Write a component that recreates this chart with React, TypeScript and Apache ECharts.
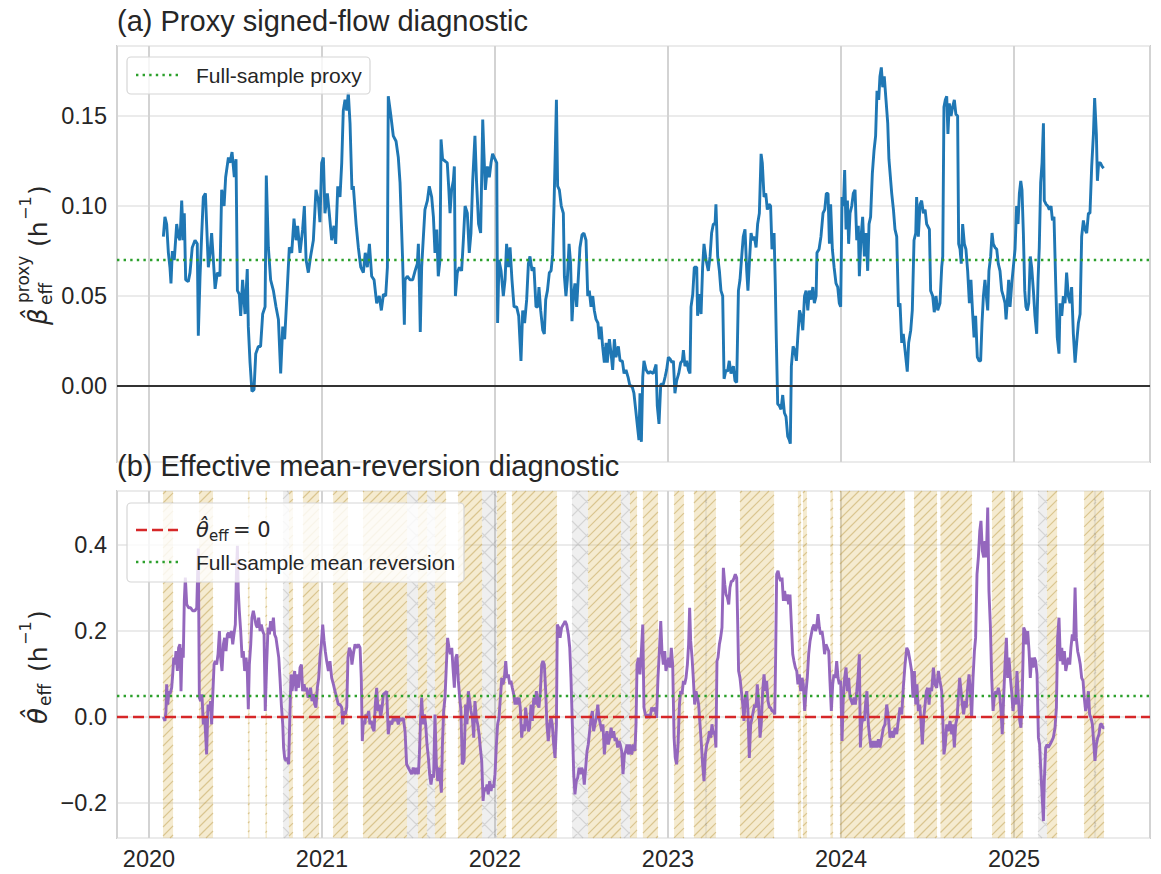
import React, { useEffect, useRef } from "react";
import * as echarts from "echarts";

// ---------------- data (x = years after BASE_YEAR) ----------------
const BASE_YEAR = 2020;
const X_MIN = 2019.815;
const X_MAX = 2025.786;
const BETA_FULL_SAMPLE = 0.0722;
const THETA_FULL_SAMPLE = 0.0473;

const betaProxy: [number, number][] = [
  [0.083,0.083],[0.092,0.094],[0.102,0.090],[0.112,0.074],[0.121,0.066],[0.127,0.057],[0.135,0.075],[0.146,0.070],[0.160,0.090],[0.170,0.083],[0.179,0.081],[0.189,0.103],[0.198,0.081],[0.204,0.096],[0.212,0.059],[0.227,0.058],[0.237,0.063],[0.250,0.077],[0.266,0.081],[0.279,0.079],[0.285,0.028],[0.295,0.061],[0.304,0.083],[0.314,0.105],[0.326,0.107],[0.333,0.090],[0.343,0.066],[0.353,0.074],[0.362,0.085],[0.372,0.070],[0.382,0.054],[0.395,0.063],[0.410,0.061],[0.420,0.109],[0.434,0.100],[0.443,0.116],[0.459,0.127],[0.468,0.124],[0.480,0.130],[0.493,0.116],[0.503,0.126],[0.511,0.053],[0.522,0.051],[0.530,0.039],[0.541,0.059],[0.555,0.040],[0.568,0.065],[0.574,0.033],[0.584,0.013],[0.595,-0.003],[0.607,-0.002],[0.617,0.018],[0.632,0.022],[0.645,0.022],[0.657,0.040],[0.671,0.044],[0.678,0.117],[0.690,0.077],[0.703,0.059],[0.719,0.053],[0.734,0.044],[0.748,0.037],[0.761,0.007],[0.773,0.033],[0.784,0.026],[0.796,0.048],[0.811,0.077],[0.825,0.074],[0.838,0.093],[0.850,0.081],[0.859,0.089],[0.873,0.074],[0.888,0.087],[0.898,0.100],[0.908,0.070],[0.921,0.063],[0.934,0.072],[0.950,0.081],[0.965,0.109],[0.979,0.103],[0.988,0.091],[0.998,0.124],[1.008,0.127],[1.017,0.096],[1.031,0.107],[1.042,0.096],[1.056,0.081],[1.069,0.089],[1.079,0.079],[1.091,0.111],[1.104,0.105],[1.114,0.124],[1.123,0.153],[1.133,0.159],[1.143,0.153],[1.152,0.163],[1.162,0.146],[1.173,0.109],[1.181,0.111],[1.197,0.090],[1.210,0.077],[1.224,0.066],[1.239,0.063],[1.250,0.074],[1.262,0.066],[1.274,0.079],[1.287,0.061],[1.301,0.059],[1.316,0.046],[1.331,0.050],[1.343,0.042],[1.355,0.051],[1.368,0.050],[1.378,0.066],[1.383,0.161],[1.397,0.151],[1.412,0.139],[1.428,0.136],[1.441,0.127],[1.451,0.113],[1.466,0.070],[1.476,0.034],
  [1.480,0.059],[1.493,0.061],[1.509,0.059],[1.524,0.059],[1.538,0.064],[1.551,0.068],[1.557,0.079],[1.563,0.055],[1.568,0.030],[1.576,0.066],[1.586,0.083],[1.595,0.098],[1.609,0.103],[1.620,0.111],[1.634,0.105],[1.644,0.094],[1.653,0.074],[1.663,0.087],[1.672,0.061],[1.682,0.070],[1.688,0.137],[1.697,0.126],[1.711,0.125],[1.724,0.124],[1.732,0.111],[1.740,0.096],[1.749,0.109],[1.759,0.114],[1.765,0.122],[1.771,0.050],[1.782,0.063],[1.794,0.066],[1.807,0.064],[1.817,0.081],[1.827,0.100],[1.840,0.096],[1.851,0.074],[1.861,0.085],[1.871,0.114],[1.884,0.139],[1.893,0.114],[1.905,0.090],[1.917,0.085],[1.929,0.148],[1.936,0.129],[1.944,0.109],[1.956,0.122],[1.967,0.116],[1.977,0.124],[1.986,0.129],[2.000,0.126],[2.010,0.124],[2.015,0.035],[2.023,0.070],[2.035,0.064],[2.048,0.050],[2.058,0.059],[2.067,0.079],[2.077,0.066],[2.087,0.077],[2.098,0.059],[2.110,0.044],[2.125,0.044],[2.137,0.039],[2.150,0.014],[2.160,0.042],[2.171,0.035],[2.183,0.048],[2.193,0.068],[2.202,0.072],[2.214,0.064],[2.225,0.066],[2.237,0.044],[2.247,0.044],[2.254,0.055],[2.264,0.042],[2.276,0.031],[2.285,0.029],[2.293,0.048],[2.303,0.053],[2.314,0.063],[2.324,0.064],[2.333,0.073],[2.341,0.100],[2.349,0.133],[2.355,0.159],[2.362,0.111],[2.372,0.109],[2.383,0.100],[2.395,0.096],[2.401,0.061],[2.410,0.050],[2.418,0.059],[2.428,0.079],[2.437,0.068],[2.445,0.036],[2.453,0.050],[2.462,0.057],[2.472,0.044],[2.482,0.061],[2.491,0.077],[2.503,0.084],[2.514,0.085],[2.526,0.081],[2.536,0.050],[2.545,0.053],[2.555,0.044],[2.565,0.050],[2.574,0.042],[2.584,0.037],[2.595,0.035],[2.603,0.026],[2.613,0.033],[2.622,0.022],[2.632,0.013],[2.642,0.024],[2.649,0.013],[2.661,0.026],[2.671,0.018],[2.680,0.009],[2.690,0.026],[2.699,0.016],[2.713,0.022],[2.723,0.014],[2.736,0.014],[2.746,0.007],[2.757,0.009],[2.769,0.005],[2.780,0.000],[2.792,0.000],[2.803,-0.004],[2.813,-0.013],[2.824,-0.023],[2.832,-0.030],[2.838,-0.004],[2.846,-0.031],[2.854,0.005],[2.861,0.014],[2.873,0.009],[2.886,0.007],
  [2.896,0.008],[2.915,0.007],[2.931,0.012],[2.938,-0.011],[2.948,-0.021],[2.958,0.001],[2.973,0.001],[2.983,0.005],[2.992,0.009],[3.002,0.016],[3.012,0.015],[3.023,0.013],[3.031,0.014],[3.040,-0.004],[3.050,0.003],[3.062,0.007],[3.073,0.013],[3.083,0.014],[3.089,0.020],[3.098,0.011],[3.108,0.014],[3.118,0.009],[3.127,0.007],[3.133,0.044],[3.143,0.051],[3.152,0.066],[3.166,0.066],[3.171,0.039],[3.181,0.051],[3.191,0.040],[3.200,0.066],[3.208,0.079],[3.220,0.070],[3.233,0.064],[3.243,0.072],[3.252,0.085],[3.262,0.090],[3.272,0.090],[3.277,0.101],[3.287,0.072],[3.297,0.064],[3.306,0.053],[3.316,0.050],[3.324,0.004],[3.335,0.009],[3.344,0.008],[3.354,0.014],[3.364,0.007],[3.378,0.011],[3.387,0.003],[3.397,0.002],[3.407,0.053],[3.416,0.059],[3.426,0.072],[3.435,0.083],[3.445,0.087],[3.455,0.064],[3.462,0.053],[3.470,0.068],[3.480,0.085],[3.489,0.081],[3.499,0.083],[3.509,0.077],[3.518,0.090],[3.528,0.096],[3.538,0.129],[3.545,0.124],[3.555,0.105],[3.565,0.107],[3.574,0.098],[3.584,0.101],[3.593,0.100],[3.601,0.076],[3.613,0.085],[3.620,0.057],[3.626,0.026],[3.634,-0.010],[3.644,-0.011],[3.653,-0.013],[3.663,-0.005],[3.673,-0.015],[3.682,-0.017],[3.692,-0.028],[3.701,-0.030],[3.707,-0.032],[3.713,0.011],[3.723,0.022],[3.732,0.020],[3.742,0.014],[3.750,0.027],[3.760,0.042],[3.769,0.039],[3.779,0.031],[3.789,0.050],[3.798,0.053],[3.808,0.042],[3.817,0.053],[3.827,0.048],[3.837,0.055],[3.846,0.046],[3.856,0.050],[3.861,0.074],[3.873,0.076],[3.884,0.083],[3.896,0.096],[3.906,0.098],[3.915,0.107],[3.925,0.107],[3.933,0.079],[3.940,0.101],[3.950,0.076],[3.960,0.066],[3.971,0.057],[3.981,0.055],[3.990,0.046],[3.998,0.044],[4.006,0.105],[4.014,0.100],[4.021,0.120],[4.029,0.087],[4.037,0.103],[4.044,0.079],[4.052,0.096],[4.062,0.100],[4.071,0.107],[4.081,0.109],[4.091,0.081],[4.100,0.089],[4.106,0.061],[4.116,0.083],[4.125,0.094],[4.135,0.072],[4.145,0.085],[4.154,0.064],[4.162,0.090],[4.171,0.094],[4.181,0.118],[4.191,0.131],[4.200,0.139],[4.208,0.164],[4.218,0.159],[4.225,0.172],[4.233,0.177],[4.241,0.166],[4.250,0.172],[4.260,0.159],[4.270,0.146],[4.277,0.126],
  [4.293,0.107],[4.303,0.098],[4.312,0.087],[4.322,0.083],[4.332,0.044],[4.341,0.046],[4.351,0.024],[4.360,0.029],[4.370,0.020],[4.383,0.008],[4.391,0.024],[4.403,0.031],[4.412,0.042],[4.422,0.081],[4.432,0.085],[4.437,0.105],[4.447,0.083],[4.457,0.101],[4.466,0.103],[4.476,0.096],[4.486,0.098],[4.495,0.090],[4.511,0.087],[4.518,0.053],[4.530,0.050],[4.539,0.041],[4.549,0.050],[4.559,0.042],[4.572,0.046],[4.582,0.066],[4.588,0.072],[4.595,0.155],[4.603,0.159],[4.611,0.161],[4.618,0.140],[4.626,0.157],[4.636,0.150],[4.645,0.155],[4.655,0.159],[4.664,0.151],[4.674,0.150],[4.680,0.079],[4.688,0.076],[4.695,0.068],[4.703,0.090],[4.713,0.079],[4.722,0.076],[4.732,0.064],[4.742,0.046],[4.751,0.059],[4.761,0.040],[4.769,0.027],[4.778,0.039],[4.788,0.016],[4.798,0.014],[4.807,0.014],[4.815,0.035],[4.823,0.050],[4.832,0.059],[4.842,0.048],[4.848,0.042],[4.855,0.064],[4.865,0.072],[4.873,0.085],[4.880,0.079],[4.890,0.077],[4.900,0.076],[4.909,0.068],[4.919,0.064],[4.929,0.053],[4.938,0.050],[4.948,0.046],[4.954,0.037],[4.962,0.048],[4.969,0.059],[4.977,0.044],[4.987,0.057],[4.996,0.066],[5.006,0.076],[5.015,0.100],[5.023,0.090],[5.031,0.107],[5.039,0.114],[5.046,0.109],[5.054,0.085],[5.062,0.053],[5.069,0.044],[5.077,0.042],[5.085,0.046],[5.094,0.072],[5.102,0.066],[5.112,0.053],[5.121,0.039],[5.131,0.029],[5.139,0.059],[5.146,0.077],[5.154,0.113],[5.162,0.124],[5.170,0.146],[5.175,0.103],[5.185,0.101],[5.195,0.100],[5.204,0.098],[5.214,0.100],[5.222,0.092],[5.231,0.094],[5.241,0.057],[5.250,0.027],[5.260,0.018],[5.266,0.046],[5.276,0.039],[5.285,0.050],[5.295,0.046],[5.304,0.063],[5.314,0.050],[5.324,0.046],[5.333,0.055],[5.343,0.029],[5.353,0.013],[5.362,0.024],[5.372,0.035],[5.382,0.040],[5.391,0.083],[5.401,0.092],[5.410,0.087],[5.420,0.085],[5.430,0.096],[5.439,0.096],[5.449,0.122],[5.459,0.140],[5.466,0.160],[5.476,0.140],[5.482,0.114],[5.489,0.124],[5.499,0.124],[5.509,0.122],[5.518,0.121],
];

const thetaEff: [number, number][] = [
  [0.083,0.000],[0.092,-0.009],[0.098,0.014],[0.102,0.076],[0.108,0.029],[0.116,0.060],[0.121,0.053],[0.131,0.068],[0.137,0.099],[0.143,0.138],[0.150,0.122],[0.156,0.153],[0.164,0.107],[0.171,0.161],[0.179,0.169],[0.185,0.060],[0.191,0.161],[0.198,0.138],[0.204,0.270],[0.210,0.324],[0.218,0.262],[0.229,0.254],[0.241,0.254],[0.252,0.247],[0.266,0.247],[0.276,0.254],[0.281,0.332],[0.285,0.392],[0.291,0.045],[0.299,0.037],[0.306,0.053],[0.314,-0.017],[0.322,-0.002],[0.328,-0.048],[0.333,-0.087],[0.341,0.029],[0.349,0.014],[0.356,0.037],[0.362,-0.017],[0.368,0.045],[0.376,0.122],[0.383,0.130],[0.391,0.122],[0.399,0.146],[0.407,0.200],[0.414,0.138],[0.422,0.107],[0.430,0.169],[0.437,0.184],[0.445,0.153],[0.453,0.192],[0.461,0.196],[0.468,0.184],[0.476,0.200],[0.484,0.169],[0.491,0.192],[0.499,0.215],[0.505,0.332],[0.511,0.398],[0.516,0.293],[0.522,0.247],[0.530,0.200],[0.538,0.138],[0.545,0.153],[0.553,0.107],[0.561,0.138],[0.568,0.107],[0.574,0.018],[0.580,0.122],[0.588,0.169],[0.595,0.231],[0.603,0.247],[0.611,0.231],[0.618,0.215],[0.626,0.208],[0.634,0.231],[0.642,0.200],[0.649,0.215],[0.657,0.200],[0.665,0.192],[0.672,0.014],[0.680,0.122],[0.688,0.208],[0.696,0.192],[0.703,0.223],[0.711,0.200],[0.719,0.231],[0.726,0.192],[0.734,0.184],[0.742,0.161],[0.750,0.138],[0.757,0.091],[0.765,0.029],[0.773,-0.017],[0.778,-0.071],[0.784,-0.095],[0.792,-0.102],[0.800,-0.095],[0.807,-0.110],[0.815,0.014],[0.821,0.099],[0.827,0.060],[0.834,0.084],[0.842,0.107],[0.850,0.060],[0.857,0.099],[0.865,0.068],[0.873,0.115],[0.881,0.122],[0.888,0.060],[0.896,0.076],[0.904,0.060],[0.911,0.068],[0.919,0.045],[0.927,0.053],[0.934,0.068],[0.942,0.037],[0.950,0.053],[0.958,0.029],[0.965,0.022],[0.973,0.068],[0.981,0.091],[0.988,0.138],[0.996,0.169],[1.004,0.215],[1.012,0.177],[1.019,0.153],[1.027,0.130],[1.037,0.107],[1.046,0.130],[1.056,0.091],[1.066,0.076],[1.075,0.060],[1.085,0.045],[1.094,0.029],[1.104,0.029],[1.114,0.022],[1.119,-0.017],[1.127,0.014],[1.135,0.006],[1.143,0.022],[1.150,0.138],[1.158,0.161],[1.166,0.153],[1.173,0.122],[1.181,0.146],[1.191,0.169],[1.200,0.161],[1.210,0.169],[1.220,0.161],[1.227,0.091],[1.233,-0.056],[1.239,-0.009],[1.247,-0.017],[1.254,0.006],[1.262,-0.002],[1.270,0.014],[1.277,-0.017],[1.285,-0.009],[1.292,-0.025],[1.301,-0.033],[1.308,0.029],[1.316,0.068],[1.324,0.014],[1.331,0.029],[1.339,-0.002],[1.347,0.022],[1.355,0.053],
  [1.374,0.060],[1.383,-0.040],[1.393,-0.009],[1.403,-0.017],[1.412,-0.002],[1.422,-0.009],[1.432,-0.002],[1.441,-0.017],[1.451,-0.002],[1.461,-0.009],[1.470,-0.002],[1.480,-0.033],[1.489,-0.110],[1.499,-0.118],[1.509,-0.126],[1.518,-0.133],[1.528,-0.118],[1.538,-0.133],[1.547,-0.118],[1.557,-0.133],[1.563,-0.087],[1.570,-0.002],[1.576,0.045],[1.584,-0.017],[1.592,0.006],[1.599,-0.017],[1.607,-0.064],[1.615,-0.095],[1.622,-0.133],[1.630,-0.157],[1.638,-0.133],[1.645,-0.141],[1.653,0.006],[1.661,-0.110],[1.669,-0.149],[1.676,-0.118],[1.684,-0.149],[1.690,-0.176],[1.696,-0.064],[1.703,0.014],[1.711,0.045],[1.719,0.122],[1.726,0.184],[1.734,0.161],[1.742,0.146],[1.750,0.161],[1.757,0.115],[1.765,0.068],[1.773,0.138],[1.780,0.146],[1.788,0.084],[1.796,0.045],[1.803,0.014],[1.811,-0.110],[1.821,-0.102],[1.830,0.029],[1.838,-0.017],[1.846,0.060],[1.854,0.037],[1.861,0.014],[1.869,-0.002],[1.877,-0.048],[1.884,0.037],[1.892,-0.002],[1.900,-0.017],[1.908,-0.040],[1.915,-0.071],[1.923,-0.102],[1.931,-0.195],[1.938,-0.164],[1.946,-0.172],[1.954,-0.157],[1.961,-0.180],[1.969,-0.149],[1.977,-0.172],[1.984,-0.157],[1.992,-0.164],[2.000,-0.133],[2.008,-0.064],[2.015,-0.017],[2.023,-0.002],[2.031,0.045],[2.039,0.091],[2.046,0.076],[2.054,0.091],[2.062,0.130],[2.069,0.091],[2.077,0.099],[2.085,0.076],[2.092,0.084],[2.100,0.068],[2.108,0.053],[2.116,0.029],[2.123,0.045],[2.131,0.029],[2.139,0.045],[2.146,0.022],[2.154,-0.048],[2.162,-0.017],[2.170,-0.033],[2.177,0.022],[2.185,-0.009],[2.193,-0.033],[2.200,-0.025],[2.208,0.029],[2.216,-0.009],[2.224,0.045],[2.231,0.029],[2.239,0.060],[2.247,0.029],[2.254,0.022],[2.262,0.060],[2.270,0.122],[2.277,0.130],[2.285,0.122],[2.293,0.060],[2.300,-0.017],[2.308,-0.056],[2.316,-0.017],[2.324,-0.002],[2.331,-0.017],[2.339,-0.064],[2.347,-0.095],[2.355,-0.017],[2.360,0.215],[2.368,0.208],[2.376,0.184],[2.385,0.208],[2.395,0.215],[2.405,0.223],[2.414,0.215],[2.424,0.192],[2.432,0.161],[2.439,0.091],[2.447,-0.017],[2.455,-0.133],[2.462,-0.180],[2.470,-0.149],[2.478,-0.141],[2.486,-0.118],[2.493,-0.133],[2.501,-0.118],[2.509,-0.126],[2.516,-0.157],[2.524,-0.118],[2.532,-0.079],[2.539,-0.064],[2.547,-0.033],[2.555,-0.002],[2.563,0.014],[2.570,-0.033],[2.578,-0.017],[2.586,-0.002],[2.594,0.029],[2.601,-0.002],[2.609,-0.017],[2.617,-0.033],[2.624,-0.017],[2.632,-0.087],[2.640,-0.048],[2.647,-0.033],[2.655,-0.064],[2.663,-0.048],[2.671,-0.025],[2.678,-0.048],[2.686,-0.033],[2.694,-0.056],[2.701,-0.048],[2.709,-0.071],[2.717,-0.056],[2.724,-0.064],[2.732,-0.079],[2.740,-0.133],[2.748,-0.087],[2.755,-0.079],[2.763,-0.064],[2.771,-0.087],
  [2.780,-0.064],[2.790,-0.087],[2.800,-0.064],[2.809,-0.079],[2.815,-0.017],[2.821,0.122],[2.829,0.138],[2.838,0.099],[2.846,0.153],[2.854,0.215],[2.861,0.022],[2.869,0.006],[2.877,-0.002],[2.886,0.006],[2.896,-0.002],[2.906,0.022],[2.915,0.014],[2.925,0.022],[2.934,-0.002],[2.942,0.091],[2.950,0.153],[2.958,0.223],[2.965,0.153],[2.973,0.122],[2.981,0.153],[2.988,0.107],[2.996,0.122],[3.004,0.138],[3.012,0.115],[3.019,0.161],[3.027,0.122],[3.035,-0.048],[3.042,-0.095],[3.050,-0.110],[3.058,-0.064],[3.066,0.029],[3.073,0.060],[3.081,0.053],[3.089,0.084],[3.096,0.076],[3.104,0.091],[3.112,0.122],[3.119,0.169],[3.125,0.254],[3.131,0.177],[3.139,0.138],[3.146,0.091],[3.154,0.029],[3.162,0.060],[3.170,0.045],[3.177,0.029],[3.185,-0.017],[3.193,-0.064],[3.200,-0.110],[3.208,-0.149],[3.216,-0.087],[3.224,-0.064],[3.231,-0.056],[3.239,-0.033],[3.247,-0.048],[3.254,-0.017],[3.262,-0.040],[3.270,-0.033],[3.277,-0.071],[3.283,0.130],[3.289,0.138],[3.297,0.169],[3.304,0.184],[3.312,0.208],[3.320,0.347],[3.328,0.309],[3.335,0.285],[3.343,0.278],[3.351,0.262],[3.358,0.301],[3.366,0.316],[3.374,0.316],[3.382,0.324],[3.389,0.332],[3.397,0.324],[3.403,0.215],[3.408,0.107],[3.416,0.091],[3.424,0.060],[3.432,0.029],[3.439,-0.009],[3.447,0.045],[3.455,0.060],[3.462,0.014],[3.470,-0.095],[3.478,-0.017],[3.486,-0.002],[3.493,0.014],[3.501,0.029],[3.509,0.022],[3.516,0.076],[3.524,0.029],[3.532,-0.048],[3.539,-0.017],[3.547,0.060],[3.555,0.099],[3.563,0.060],[3.570,0.084],[3.578,0.037],[3.586,0.022],[3.593,0.022],[3.601,0.014],[3.609,0.014],[3.617,0.006],[3.622,0.138],[3.628,0.332],[3.636,0.340],[3.644,0.324],[3.651,0.316],[3.659,0.324],[3.667,0.270],[3.674,0.293],[3.682,0.270],[3.690,0.285],[3.697,0.262],[3.705,0.285],[3.713,0.215],[3.721,0.146],[3.728,0.130],[3.736,0.115],[3.744,0.107],[3.751,0.076],[3.759,0.099],[3.767,0.060],[3.775,0.091],[3.782,0.076],[3.790,0.014],[3.798,0.060],[3.805,0.091],[3.813,0.146],[3.821,0.177],[3.828,0.192],[3.836,0.208],[3.844,0.215],[3.852,0.200],[3.859,0.208],[3.867,0.239],[3.875,0.208],[3.882,0.192],[3.890,0.200],[3.898,0.177],[3.905,0.146],[3.913,0.169],[3.921,0.161],[3.929,0.153],[3.936,0.084],[3.944,0.014],[3.952,0.076],[3.959,0.099],[3.967,0.091],[3.975,0.130],[3.983,0.091],[3.990,0.076],[3.998,0.084],[4.006,-0.056],[4.013,0.045],[4.021,0.091],[4.029,0.115],[4.037,0.060],[4.044,0.091],[4.052,0.045],[4.060,0.037],[4.067,0.029],[4.075,0.045],[4.083,0.029],[4.091,0.060],[4.098,0.091],[4.106,0.146],[4.112,-0.071],[4.119,-0.017],[4.127,-0.002],[4.135,-0.009],[4.143,0.037],[4.150,0.060],[4.158,-0.017],[4.166,-0.048],[4.173,-0.071],[4.181,-0.056],[4.189,-0.071],
  [4.197,-0.056],[4.206,-0.071],[4.216,-0.052],[4.225,-0.071],[4.235,-0.048],[4.245,-0.025],[4.254,-0.017],[4.264,0.029],[4.274,-0.002],[4.283,-0.048],[4.293,-0.033],[4.303,-0.048],[4.312,-0.025],[4.322,-0.040],[4.331,-0.009],[4.341,0.022],[4.351,0.006],[4.360,0.068],[4.370,0.122],[4.380,0.161],[4.389,0.153],[4.399,0.130],[4.408,0.107],[4.416,0.045],[4.424,0.107],[4.432,0.029],[4.439,0.076],[4.447,0.014],[4.455,0.029],[4.462,-0.009],[4.470,-0.064],[4.478,-0.002],[4.486,0.029],[4.493,0.060],[4.501,0.068],[4.509,0.029],[4.516,0.068],[4.524,0.060],[4.534,0.115],[4.543,0.076],[4.553,0.068],[4.563,0.107],[4.572,0.084],[4.582,0.060],[4.588,-0.002],[4.595,-0.087],[4.603,-0.064],[4.611,-0.017],[4.620,-0.033],[4.630,-0.009],[4.640,-0.040],[4.647,-0.017],[4.655,-0.071],[4.663,-0.017],[4.671,-0.002],[4.678,0.045],[4.686,0.091],[4.694,0.060],[4.701,0.029],[4.709,0.006],[4.717,0.037],[4.724,0.022],[4.732,0.068],[4.740,0.099],[4.748,0.060],[4.755,-0.002],[4.763,0.091],[4.771,0.153],[4.778,0.184],[4.786,0.332],[4.794,0.371],[4.802,0.433],[4.809,0.456],[4.817,0.386],[4.825,0.371],[4.832,0.409],[4.840,0.371],[4.848,0.487],[4.855,0.293],[4.863,0.215],[4.871,0.091],[4.879,0.014],[4.886,0.045],[4.894,0.060],[4.902,0.053],[4.909,0.068],[4.917,0.053],[4.925,0.014],[4.932,-0.040],[4.940,0.045],[4.948,0.122],[4.956,0.184],[4.963,0.091],[4.971,0.138],[4.979,0.091],[4.986,0.060],[4.994,0.014],[5.002,0.045],[5.010,0.029],[5.017,0.107],[5.025,0.045],[5.033,-0.009],[5.040,-0.025],[5.048,0.060],[5.056,0.208],[5.064,0.200],[5.071,0.169],[5.079,0.200],[5.087,0.153],[5.094,0.091],[5.102,0.138],[5.110,0.115],[5.117,0.138],[5.125,0.130],[5.133,0.099],[5.141,-0.048],[5.148,-0.064],[5.156,-0.133],[5.164,-0.195],[5.170,-0.242],[5.175,-0.149],[5.183,-0.071],[5.191,-0.064],[5.198,-0.071],[5.208,-0.064],[5.218,-0.056],[5.227,-0.048],[5.237,-0.025],[5.245,0.022],[5.252,0.184],[5.260,0.231],[5.268,0.130],[5.276,0.161],[5.283,0.122],[5.291,0.153],[5.299,0.107],[5.306,0.122],[5.314,0.138],[5.322,0.122],[5.329,0.161],[5.337,0.192],[5.345,0.177],[5.353,0.301],[5.360,0.184],[5.368,0.153],[5.376,0.138],[5.383,0.122],[5.391,0.091],[5.399,0.084],[5.406,0.045],[5.414,0.014],[5.422,0.029],[5.430,0.060],[5.437,0.006],[5.445,-0.002],[5.453,-0.017],[5.460,-0.056],[5.468,-0.102],[5.476,-0.064],[5.484,-0.048],[5.491,-0.040],[5.499,-0.017],[5.507,-0.017],[5.514,-0.025],[5.522,-0.025],
];

// shaded regimes (start, end) in years after BASE_YEAR
const hatchedRegimes: [number, number][] = [
  [0.081,0.139],[0.289,0.370],[0.572,0.581],[0.673,0.682],[0.809,0.832],[0.890,0.983],[1.064,1.150],[1.237,1.491],[1.555,1.607],[1.653,1.717],[1.786,1.925],[2.012,2.064],[2.098,2.358],[2.538,2.728],[2.780,2.821],[2.855,2.942],[3.035,3.092],[3.150,3.277],[3.416,3.613],[3.751,3.769],[3.780,3.803],[3.939,3.954],[3.994,4.370],[4.422,4.555],[4.575,4.757],[4.873,4.948],[4.983,5.052],[5.191,5.249],[5.405,5.520],
];
const crossRegimes: [number, number][] = [
  [0.775,0.809],[1.491,1.555],[1.607,1.653],[1.925,2.012],[2.445,2.538],[2.728,2.780],[3.214,3.225],[5.139,5.191],[5.462,5.474],
];

// ---------------- styling ----------------
const FONT = '"Liberation Sans", Arial, sans-serif';
const MATH = '"DejaVu Sans", sans-serif';
const INK = "#262626";

const toXY = (arr: [number, number][]) => arr.map(([o, v]) => [BASE_YEAR + o, v]);
const toBands = (arr: [number, number][]) => arr.map(([a, b]) => [BASE_YEAR + a, BASE_YEAR + b, 0]);

function bandRenderer(kind: "hatch" | "cross") {
  return (params: any, api: any) => {
    const cs = params.coordSys;
    const xa = api.coord([api.value(0), 0])[0];
    const xb = api.coord([api.value(1), 0])[0];
    const x0 = Math.min(xa, xb);
    const x1 = Math.max(xa, xb);
    const y0 = cs.y;
    const y1 = cs.y + cs.height;
    const sp = kind === "hatch" ? 9 : 17;
    let d = "";
    const c0 = Math.ceil((x0 + y0) / sp) * sp;
    for (let c = c0; c <= x1 + y1; c += sp) {
      const lo = Math.max(y0, c - x1);
      const hi = Math.min(y1, c - x0);
      if (hi > lo) d += `M${(c - lo).toFixed(2)} ${lo.toFixed(2)}L${(c - hi).toFixed(2)} ${hi.toFixed(2)}`;
    }
    if (kind === "cross") {
      const c1 = Math.ceil((x0 - y1) / sp) * sp;
      for (let c = c1; c <= x1 - y0; c += sp) {
        const lo = Math.max(y0, x0 - c);
        const hi = Math.min(y1, x1 - c);
        if (hi > lo) d += `M${(c + lo).toFixed(2)} ${lo.toFixed(2)}L${(c + hi).toFixed(2)} ${hi.toFixed(2)}`;
      }
    }
    const children: any[] = [
      {
        type: "rect",
        shape: { x: x0, y: y0, width: Math.max(x1 - x0, 0.8), height: y1 - y0 },
        style: { fill: kind === "hatch" ? "rgba(222,190,100,0.30)" : "rgba(160,160,160,0.17)" },
      },
    ];
    if (d) {
      children.push({
        type: "path",
        shape: { pathData: d },
        style: {
          fill: "none",
          stroke: kind === "hatch" ? "rgba(180,145,55,0.42)" : "rgba(120,120,120,0.22)",
          lineWidth: 1.2,
        },
      });
    }
    return { type: "group", children };
  };
}

function mt(text: string, x: number, base: number, fs: number, italic = false, family = MATH) {
  return {
    type: "text",
    x,
    y: base - 0.35 * fs,
    style: {
      text,
      fontSize: fs,
      fontFamily: family,
      fontStyle: italic ? "italic" : "normal",
      fill: INK,
      align: "left",
      verticalAlign: "middle",
    },
  };
}

const fmtTop = (v: number) => {
  const r = Math.round(v / 0.05) * 0.05;
  return Math.abs(v - r) < 1e-6 ? Math.abs(r).toFixed(2) : "";
};
const fmtBottom = (v: number) => {
  const r = Math.round(v / 0.2) * 0.2;
  if (Math.abs(v - r) > 1e-6) return "";
  const s = Math.abs(r).toFixed(1);
  return r < -1e-9 ? "\u2212" + s : s;
};
const fmtYear = (v: number) => (Math.abs(v - Math.round(v)) < 1e-6 ? String(Math.round(v)) : "");

export default function App() {
  const ref = useRef<HTMLDivElement>(null);
  useEffect(() => {
    document.body.style.margin = "0";
    const chart = echarts.init(ref.current!, null, { renderer: "svg" });

    const commonX = {
      type: "value",
      min: X_MIN,
      max: X_MAX,
      splitNumber: 6,
      axisLine: { show: false },
      axisTick: { show: false },
      splitLine: { show: true, lineStyle: { color: "#d3d3d3", width: 2 } },
    };
    const commonY = {
      type: "value",
      splitNumber: 5,
      axisLine: { show: false },
      axisTick: { show: false },
      splitLine: { show: true, lineStyle: { color: "#ebebeb", width: 1.8 } },
    };
    const tickFont = { fontSize: 23.5, color: INK, fontFamily: FONT };

    const option: any = {
      animation: false,
      backgroundColor: "#ffffff",
      grid: [
        { left: 117, top: 46, width: 1033, height: 416, show: true, borderColor: "#cccccc", borderWidth: 2, backgroundColor: "transparent" },
        { left: 117, top: 491, width: 1033, height: 347, show: true, borderColor: "#cccccc", borderWidth: 2, backgroundColor: "transparent" },
      ],
      xAxis: [
        { ...commonX, gridIndex: 0, axisLabel: { show: false } },
        {
          ...commonX,
          gridIndex: 1,
          axisLabel: { show: true, formatter: fmtYear, ...tickFont, margin: 9 },
        },
      ],
      yAxis: [
        {
          ...commonY,
          gridIndex: 0,
          min: -0.0422,
          max: 0.1889,
          axisLabel: { formatter: fmtTop, ...tickFont, margin: 10 },
        },
        {
          ...commonY,
          gridIndex: 1,
          min: -0.2814,
          max: 0.5256,
          axisLabel: { formatter: fmtBottom, ...tickFont, margin: 10 },
        },
      ],
      series: [
        {
          type: "custom",
          name: "hatched regimes",
          xAxisIndex: 1,
          yAxisIndex: 1,
          silent: true,
          z: 1,
          encode: { x: [0, 1], y: 2 },
          renderItem: bandRenderer("hatch"),
          data: toBands(hatchedRegimes),
        },
        {
          type: "custom",
          name: "cross regimes",
          xAxisIndex: 1,
          yAxisIndex: 1,
          silent: true,
          z: 1,
          encode: { x: [0, 1], y: 2 },
          renderItem: bandRenderer("cross"),
          data: toBands(crossRegimes),
        },
        {
          type: "line",
          name: "proxy",
          xAxisIndex: 0,
          yAxisIndex: 0,
          data: toXY(betaProxy),
          showSymbol: false,
          symbol: "none",
          z: 3,
          lineStyle: { color: "#1f77b4", width: 2.9 },
          markLine: {
            silent: true,
            symbol: ["none", "none"],
            label: { show: false },
            data: [
              { yAxis: 0, lineStyle: { color: "#333333", width: 2, type: "solid" } },
              { yAxis: BETA_FULL_SAMPLE, lineStyle: { color: "#2ca02c", width: 2.4, type: [2.4, 4.2] } },
            ],
          },
        },
        {
          type: "line",
          name: "theta",
          xAxisIndex: 1,
          yAxisIndex: 1,
          data: toXY(thetaEff),
          showSymbol: false,
          symbol: "none",
          z: 3,
          lineStyle: { color: "#9467bd", width: 2.9 },
          markLine: {
            silent: true,
            symbol: ["none", "none"],
            label: { show: false },
            data: [
              { yAxis: 0, lineStyle: { color: "#d62728", width: 2.4, type: [11, 5] } },
              { yAxis: THETA_FULL_SAMPLE, lineStyle: { color: "#2ca02c", width: 2.4, type: [2.4, 4.2] } },
            ],
          },
        },
      ],
      graphic: {
        elements: [
          // panel titles
          { type: "text", x: 117, y: 21, z: 20, style: { text: "(a) Proxy signed-flow diagnostic", fontSize: 29, fontFamily: FONT, fill: INK, align: "left", verticalAlign: "middle" } },
          { type: "text", x: 117, y: 466, z: 20, style: { text: "(b) Effective mean-reversion diagnostic", fontSize: 29, fontFamily: FONT, fill: INK, align: "left", verticalAlign: "middle" } },
          // top legend
          { type: "rect", z: 20, shape: { x: 127, y: 57, width: 243, height: 37, r: 4 }, style: { fill: "rgba(255,255,255,0.8)", stroke: "#d6d6d6", lineWidth: 1.2 } },
          { type: "line", z: 21, shape: { x1: 136, y1: 75, x2: 178, y2: 75 }, style: { stroke: "#2ca02c", lineWidth: 2.4, lineDash: [2.4, 4.2] } },
          { type: "text", z: 21, x: 196, y: 75, style: { text: "Full-sample proxy", fontSize: 21, fontFamily: FONT, fill: INK, align: "left", verticalAlign: "middle" } },
          // bottom legend
          { type: "rect", z: 20, shape: { x: 127, y: 503, width: 337, height: 79, r: 4 }, style: { fill: "rgba(255,255,255,0.8)", stroke: "#d6d6d6", lineWidth: 1.2 } },
          { type: "line", z: 21, shape: { x1: 136, y1: 530, x2: 178, y2: 530 }, style: { stroke: "#d62728", lineWidth: 2.4, lineDash: [11, 5] } },
          { type: "group", z: 21, x: 0, y: 0, children: [
            { ...mt("\u03b8\u0302", 196, 537, 21, true), z: 21 },
            { ...mt("eff", 209, 541, 15), z: 21 },
            { ...mt("= 0", 233, 537, 21), z: 21 },
          ] },
          { type: "line", z: 21, shape: { x1: 136, y1: 562, x2: 178, y2: 562 }, style: { stroke: "#2ca02c", lineWidth: 2.4, lineDash: [2.4, 4.2] } },
          { type: "text", z: 21, x: 196, y: 562, style: { text: "Full-sample mean reversion", fontSize: 21, fontFamily: FONT, fill: INK, align: "left", verticalAlign: "middle" } },
          // y-axis title, top
          { type: "group", x: 47, y: 256, rotation: Math.PI / 2, z: 20, children: [
            mt("\u03b2\u0302", -69, 0, 26, true),
            mt("eff", -49, 5, 17),
            mt("proxy", -47, -18, 17),
            mt("(h", 9, 0, 25),
            mt("\u22121", 36, -16, 16),
            mt(")", 61, 0, 25),
          ] },
          // y-axis title, bottom
          { type: "group", x: 47, y: 667, rotation: Math.PI / 2, z: 20, children: [
            mt("\u03b8\u0302", -57, 0, 26, true),
            mt("eff", -39, 4, 17),
            mt("(h", -5, 0, 25),
            mt("\u22121", 22, -16, 16),
            mt(")", 47, 0, 25),
          ] },
        ],
      },
    };

    chart.setOption(option);
    return () => chart.dispose();
  }, []);
  return <div ref={ref} style={{ width: 1161, height: 874 }} />;
}
